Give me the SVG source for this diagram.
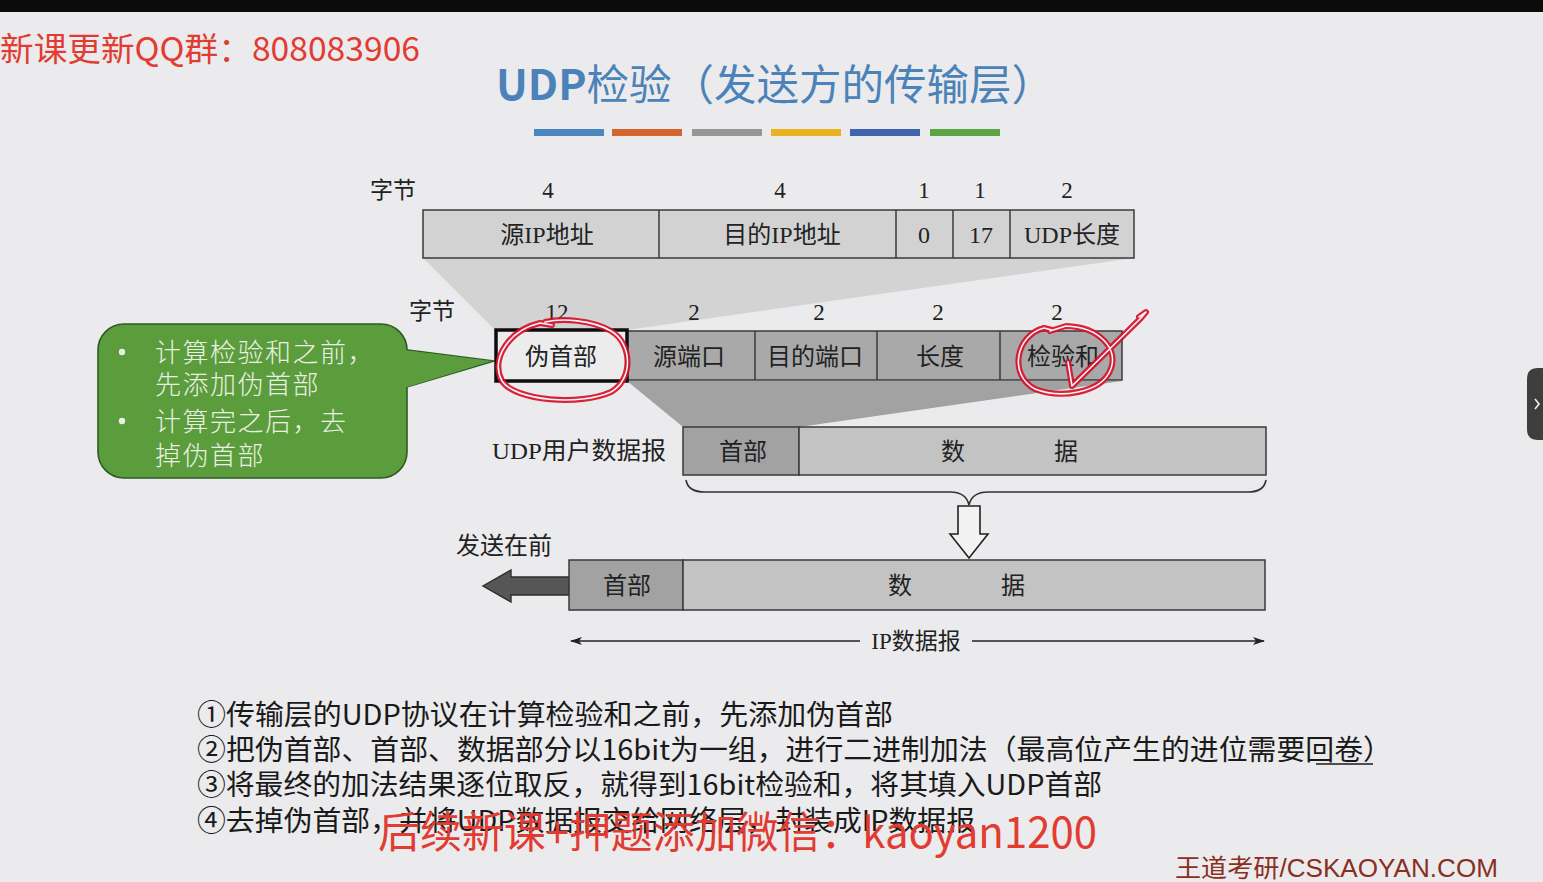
<svg xmlns="http://www.w3.org/2000/svg" width="1543" height="882" viewBox="0 0 1543 882">
  <defs>
    <style>
      .serif { font-family: "Liberation Serif", "Noto Sans CJK SC", serif; fill: #222; }
      .cell { stroke: #3a3a3a; stroke-width: 1.5; }
      .light { fill: #d2d2d2; }
      .mid { fill: #a9a9a9; }
      .dark { fill: #a2a2a2; }
      .pale { fill: #c3c3c3; }
      .note { font-family: "Noto Sans CJK SC", sans-serif; fill: #1a1a1a; font-size: 28px; }
      .callout { font-family: "Noto Sans CJK SC", sans-serif; fill: #e9f1e2; font-size: 26px; font-weight: 300; letter-spacing: 1.5px; }
      .ink { fill: none; stroke: #d4122e; stroke-width: 6; stroke-linecap: round; stroke-linejoin: round; opacity: 0.92; }
      .ink-hi { fill: none; stroke: #fff2f3; stroke-width: 1.6; stroke-linecap: round; stroke-linejoin: round; }
      .red { font-family: "Noto Sans CJK SC", sans-serif; fill: #e23c32; }
    </style>
    <marker id="arrowHead" viewBox="0 0 12 8" refX="11" refY="4" markerWidth="12" markerHeight="8" markerUnits="userSpaceOnUse" orient="auto-start-reverse">
      <path d="M0,0 L12,4 L0,8 L3,4 Z" fill="#222"/>
    </marker>
  </defs>

  <!-- page background -->
  <rect x="0" y="0" width="1543" height="882" fill="#ebebed"/>
  <rect x="0" y="0" width="1543" height="12" fill="#0b0b0b"/>

  <!-- title -->
  <g id="title">
    <text x="496" y="100" font-family="Noto Sans CJK SC, sans-serif" font-size="42.5" fill="#4b82b8"><tspan font-weight="bold">UDP</tspan>检验（发送方的传输层）</text>
    <rect x="534" y="129" width="70" height="7" fill="#4a86c0"/>
    <rect x="612" y="129" width="70" height="7" fill="#d4652f"/>
    <rect x="692" y="129" width="70" height="7" fill="#969696"/>
    <rect x="771" y="129" width="70" height="7" fill="#e9b320"/>
    <rect x="850" y="129" width="70" height="7" fill="#3f63ad"/>
    <rect x="930" y="129" width="70" height="7" fill="#5aa446"/>
  </g>

  <!-- projection wedges and arrows -->
  <g id="connectors">
    <polygon points="423,258 1134,258 627,330 495,330" fill="#d3d3d4"/>
    <polygon points="627,381 1122,381 799,427 683,427" fill="#a2a2a2"/>
    <!-- brace under UDP datagram -->
    <path d="M686,480 Q688,492 705,492 L950,492 Q966,492 969,505 Q972,492 988,492 L1248,492 Q1264,492 1266,480" fill="none" stroke="#333" stroke-width="1.6"/>
    <!-- hollow down arrow -->
    <polygon points="958,506 980,506 980,534 988,534 969,558 950,534 958,534" fill="#f2f2f2" stroke="#222" stroke-width="1.6"/>
    <!-- sent-first arrow -->
    <polygon points="569,577 511,577 511,570 483,586 511,602 511,595 569,595" fill="#565656" stroke="#2e2e2e" stroke-width="1.4"/>
    <!-- IP datagram span -->
    <line x1="571" y1="641" x2="860" y2="641" stroke="#222" stroke-width="1.5" marker-start="url(#arrowHead)"/>
    <line x1="972" y1="641" x2="1264" y2="641" stroke="#222" stroke-width="1.5" marker-end="url(#arrowHead)"/>
    <text x="916" y="649" class="serif" font-size="23" text-anchor="middle">IP数据报</text>
    <!-- callout pointer -->
    <polygon points="400,349 494,361 400,389" fill="#5b9c3d" stroke="#2f5a23" stroke-width="1.6" stroke-linejoin="round"/>
  </g>

  <!-- pseudo header layout -->
  <g id="pseudo-header">
    <text x="393" y="198" class="serif" font-size="23" text-anchor="middle">字节</text>
    <text x="548" y="198" class="serif" font-size="23" text-anchor="middle">4</text>
    <text x="780" y="198" class="serif" font-size="23" text-anchor="middle">4</text>
    <text x="924" y="198" class="serif" font-size="23" text-anchor="middle">1</text>
    <text x="980" y="198" class="serif" font-size="23" text-anchor="middle">1</text>
    <text x="1067" y="198" class="serif" font-size="23" text-anchor="middle">2</text>
    <rect x="423" y="210" width="711" height="48" class="cell light"/>
    <line x1="659" y1="210" x2="659" y2="258" class="cell"/>
    <line x1="896" y1="210" x2="896" y2="258" class="cell"/>
    <line x1="953" y1="210" x2="953" y2="258" class="cell"/>
    <line x1="1010" y1="210" x2="1010" y2="258" class="cell"/>
    <text x="547" y="243" class="serif" font-size="24" text-anchor="middle">源IP地址</text>
    <text x="782" y="243" class="serif" font-size="24" text-anchor="middle">目的IP地址</text>
    <text x="924" y="243" class="serif" font-size="24" text-anchor="middle">0</text>
    <text x="981" y="243" class="serif" font-size="24" text-anchor="middle">17</text>
    <text x="1072" y="243" class="serif" font-size="24" text-anchor="middle">UDP长度</text>
  </g>

  <!-- UDP header layout -->
  <g id="udp-header">
    <text x="432" y="319" class="serif" font-size="23" text-anchor="middle">字节</text>
    <text x="557" y="320" class="serif" font-size="23" text-anchor="middle">12</text>
    <text x="694" y="320" class="serif" font-size="23" text-anchor="middle">2</text>
    <text x="819" y="320" class="serif" font-size="23" text-anchor="middle">2</text>
    <text x="938" y="320" class="serif" font-size="23" text-anchor="middle">2</text>
    <text x="1057" y="320" class="serif" font-size="23" text-anchor="middle">2</text>
    <rect x="627" y="331" width="495" height="49" class="cell mid"/>
    <line x1="755" y1="331" x2="755" y2="380" class="cell"/>
    <line x1="877" y1="331" x2="877" y2="380" class="cell"/>
    <line x1="1000" y1="331" x2="1000" y2="380" class="cell"/>
    <rect x="496" y="330" width="131" height="51" fill="#ececec" stroke="#0d0d0d" stroke-width="3.5"/>
    <text x="561" y="365" class="serif" font-size="24" text-anchor="middle">伪首部</text>
    <text x="689" y="365" class="serif" font-size="24" text-anchor="middle">源端口</text>
    <text x="815" y="365" class="serif" font-size="24" text-anchor="middle">目的端口</text>
    <text x="940" y="365" class="serif" font-size="24" text-anchor="middle">长度</text>
    <text x="1063" y="365" class="serif" font-size="24" text-anchor="middle">检验和</text>
  </g>

  <!-- UDP user datagram -->
  <g id="udp-datagram">
    <text x="666" y="459" class="serif" font-size="24" text-anchor="end" textLength="174" lengthAdjust="spacingAndGlyphs">UDP用户数据报</text>
    <rect x="683" y="427" width="116" height="48" class="cell dark"/>
    <rect x="799" y="427" width="467" height="48" class="cell pale"/>
    <text x="743" y="460" class="serif" font-size="24" text-anchor="middle">首部</text>
    <text x="953" y="460" class="serif" font-size="24" text-anchor="middle">数</text>
    <text x="1066" y="460" class="serif" font-size="24" text-anchor="middle">据</text>
  </g>

  <!-- IP datagram -->
  <g id="ip-datagram">
    <text x="504" y="554" class="serif" font-size="24" text-anchor="middle">发送在前</text>
    <rect x="569" y="560" width="114" height="50" class="cell dark"/>
    <rect x="683" y="560" width="582" height="50" class="cell pale"/>
    <text x="627" y="594" class="serif" font-size="24" text-anchor="middle">首部</text>
    <text x="900" y="594" class="serif" font-size="24" text-anchor="middle">数</text>
    <text x="1013" y="594" class="serif" font-size="24" text-anchor="middle">据</text>
  </g>

  <!-- green callout -->
  <g id="callout">
    <rect x="98" y="324" width="309" height="154" rx="26" ry="26" fill="#5b9c3d" stroke="#2f5a23" stroke-width="1.6"/>
    <polygon points="404,350 492,361 404,388" fill="#5b9c3d"/>
    <circle cx="122" cy="352" r="3.2" fill="#e9f1e2"/>
    <circle cx="122" cy="421" r="3.2" fill="#e9f1e2"/>
    <text x="155" y="362" class="callout">计算检验和之前，</text>
    <text x="155" y="394" class="callout">先添加伪首部</text>
    <text x="155" y="431" class="callout">计算完之后，去</text>
    <text x="155" y="465" class="callout">掉伪首部</text>
  </g>

  <!-- handwritten marks -->
  <g id="ink-marks">
    <path class="ink" d="M552,325 L540,323 C510,330 490,358 502,381 C515,401 580,406 611,392 C633,380 633,344 611,331 C592,320 562,318 545,322"/>
    <path class="ink-hi" d="M552,325 L540,323 C510,330 490,358 502,381 C515,401 580,406 611,392 C633,380 633,344 611,331 C592,320 562,318 545,322"/>
    <path class="ink" d="M1052,330 L1044,328 C1016,335 1008,375 1035,389 C1060,399 1100,393 1110,371 C1120,350 1100,327 1066,326 L1050,331 M1068,362 L1072,386 L1141,318 L1146,312 L1139,317"/>
    <path class="ink-hi" d="M1052,330 L1044,328 C1016,335 1008,375 1035,389 C1060,399 1100,393 1110,371 C1120,350 1100,327 1066,326 L1050,331 M1068,362 L1072,386 L1141,318 L1146,312 L1139,317"/>
  </g>

  <!-- explanation lines -->
  <g id="steps">
    <text x="197" y="725" class="note" textLength="696" lengthAdjust="spacingAndGlyphs">①传输层的UDP协议在计算检验和之前，先添加伪首部</text>
    <text x="197" y="760" class="note" textLength="1195" lengthAdjust="spacingAndGlyphs">②把伪首部、首部、数据部分以16bit为一组，进行二进制加法（最高位产生的进位需要回卷）</text>
    <line x1="1316" y1="764" x2="1373" y2="764" stroke="#1a1a1a" stroke-width="1.6"/>
    <text x="197" y="795" class="note" textLength="905" lengthAdjust="spacingAndGlyphs">③将最终的加法结果逐位取反，就得到16bit检验和，将其填入UDP首部</text>
    <text x="197" y="831" class="note" textLength="778" lengthAdjust="spacingAndGlyphs">④去掉伪首部，并将UDP数据报交给网络层，封装成IP数据报</text>
  </g>

  <!-- overlay captions -->
  <g id="captions">
    <text x="0" y="61" class="red" font-size="33" textLength="420" lengthAdjust="spacingAndGlyphs">新课更新QQ群：808083906</text>
    <text x="378" y="848" class="red" font-size="43" textLength="719" lengthAdjust="spacingAndGlyphs">后续新课+押题添加微信：kaoyan1200</text>
    <text x="1175" y="877" font-family="Liberation Sans, Noto Sans CJK SC, sans-serif" font-size="25" fill="#8a2e22" textLength="323" lengthAdjust="spacingAndGlyphs">王道考研/CSKAOYAN.COM</text>
  </g>

  <!-- side tab -->
  <g id="side-tab">
    <path d="M1543,368 L1538,368 Q1527,368 1527,379 L1527,429 Q1527,440 1538,440 L1543,440 Z" fill="#3e3e3e"/>
    <path d="M1535,399 L1539,404 L1535,409" fill="none" stroke="#f0f0f0" stroke-width="1.6"/>
  </g>
</svg>
